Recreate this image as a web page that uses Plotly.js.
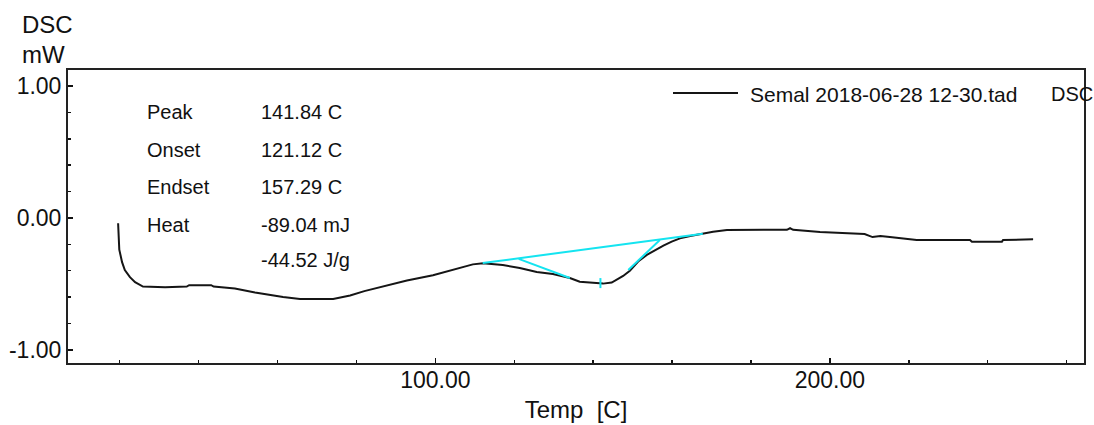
<!DOCTYPE html>
<html>
<head>
<meta charset="utf-8">
<script src="https://cdn.plot.ly/plotly-3.0.1.min.js"></script>
<style>html,body{margin:0;padding:0;background:#fff;}#chart{width:1094px;height:425px;}</style>
</head>
<body>
<div id="chart"></div>
<script>
// Measured DSC curve
const temperature = [19.6, 19.7, 19.9, 20.6, 21.3, 22.6, 23.9, 25.9, 31.5, 37.0, 37.6, 43.2, 43.8, 49.2, 54.3, 61.4, 65.7, 74.1, 78.4, 82.0, 86.7, 92.8, 99.4, 103.7, 107.0, 109.5, 112.1, 117.1, 121.4, 125.7, 129.8, 134.1, 136.6, 140.9, 142.5, 144.7, 146.0, 147.6, 149.3, 151.4, 153.6, 155.7, 157.8, 159.9, 162.0, 164.6, 167.1, 170.4, 173.9, 182.3, 189.1, 189.9, 190.7, 197.5, 203.3, 208.8, 210.8, 212.8, 215.2, 219.5, 222.0, 235.5, 236.0, 243.6, 243.9, 251.5];
const dscSignal   = [-0.04, -0.15, -0.24, -0.335, -0.395, -0.449, -0.487, -0.52, -0.525, -0.52, -0.51, -0.51, -0.52, -0.535, -0.565, -0.60, -0.615, -0.615, -0.588, -0.555, -0.52, -0.475, -0.435, -0.40, -0.37, -0.352, -0.343, -0.357, -0.38, -0.41, -0.425, -0.455, -0.484, -0.496, -0.498, -0.49, -0.47, -0.44, -0.40, -0.33, -0.28, -0.243, -0.21, -0.18, -0.155, -0.137, -0.122, -0.105, -0.091, -0.088, -0.09, -0.078, -0.09, -0.106, -0.114, -0.122, -0.145, -0.137, -0.144, -0.16, -0.167, -0.167, -0.18, -0.18, -0.167, -0.162];

// Peak analysis construction lines
const baselineT = [112.0, 167.8];
const baselineV = [-0.342, -0.120];
const onsetT = [121.12, 134.1];
const onsetV = [-0.31, -0.455];
const endsetT = [156.9, 148.9];
const endsetV = [-0.167, -0.395];
const peakMarkT = [141.84, 141.84];
const peakMarkV = [-0.456, -0.532];

// Result table
const resultLabels = ["Peak", "Onset", "Endset", "Heat", ""];
const resultValues = ["141.84 C", "121.12 C", "157.29 C", "-89.04 mJ", "-44.52 J/g"];

// Axis ticks
const xTickVals = [100, 200];
const xTickText = ["100.00", "200.00"];
const yTickVals = [1, 0, -1];
const yTickText = ["1.00", "0.00", "-1.00"];

const seriesName = "Semal 2018-06-28 12-30.tad";
const FONT = "Liberation Sans, Arial, sans-serif";
const CYAN = "#14e4f0";

const traces = [
  {x: temperature, y: dscSignal, type: "scatter", mode: "lines", name: seriesName,
   line: {color: "#151515", width: 2}, showlegend: false, hoverinfo: "skip"},
  {x: baselineT, y: baselineV, type: "scatter", mode: "lines", line: {color: CYAN, width: 2}, showlegend: false},
  {x: onsetT, y: onsetV, type: "scatter", mode: "lines", line: {color: CYAN, width: 2}, showlegend: false},
  {x: endsetT, y: endsetV, type: "scatter", mode: "lines", line: {color: CYAN, width: 2}, showlegend: false},
  {x: peakMarkT, y: peakMarkV, type: "scatter", mode: "lines", line: {color: CYAN, width: 2}, showlegend: false}
];

// layout geometry
const L = 68, T = 70, W = 1016, H = 293;
const px = v => (v - L) / W;
const py = v => (T + H - v) / H;

const rowY = [112, 150, 187, 225, 260];
const annotations = [];
resultLabels.forEach((lab, i) => {
  if (lab) annotations.push({xref: "paper", yref: "paper", x: px(145), y: py(rowY[i]), xanchor: "left", yanchor: "middle",
    text: lab, showarrow: false, font: {family: FONT, size: 20, color: "#111"}});
  annotations.push({xref: "paper", yref: "paper", x: px(259), y: py(rowY[i]), xanchor: "left", yanchor: "middle",
    text: resultValues[i], showarrow: false, font: {family: FONT, size: 20, color: "#111"}});
});
annotations.push({xref: "paper", yref: "paper", x: px(748), y: py(94), xanchor: "left", yanchor: "middle",
  text: seriesName, showarrow: false, font: {family: FONT, size: 21, color: "#111"}});
annotations.push({xref: "paper", yref: "paper", x: px(1049), y: py(94), xanchor: "left", yanchor: "middle",
  text: "DSC", showarrow: false, font: {family: FONT, size: 20, color: "#111"}});
annotations.push({xref: "paper", yref: "paper", x: px(20), y: py(24), xanchor: "left", yanchor: "middle",
  text: "DSC", showarrow: false, font: {family: FONT, size: 24, color: "#111"}});
annotations.push({xref: "paper", yref: "paper", x: px(20), y: py(55), xanchor: "left", yanchor: "middle",
  text: "mW", showarrow: false, font: {family: FONT, size: 24, color: "#111"}});

const layout = {
  width: 1094, height: 425,
  margin: {l: L, r: 1094 - L - W, t: T, b: 425 - T - H, pad: 0},
  paper_bgcolor: "#fff", plot_bgcolor: "#fff",
  showlegend: false,
  xaxis: {
    range: [6.9, 264.4], tickmode: "array", tickvals: xTickVals, ticktext: xTickText,
    ticks: "inside", ticklen: 5, tickwidth: 1.5, tickcolor: "#111", ticklabelstandoff: -5,
    minor: {dtick: 20, tick0: 0, ticks: "inside", ticklen: 3, tickwidth: 1.5, tickcolor: "#111", showgrid: false},
    showgrid: false, zeroline: false, showline: true, mirror: true, linecolor: "#222", linewidth: 2,
    tickfont: {family: FONT, size: 23, color: "#111"},
    title: {text: "Temp  [C]", font: {family: FONT, size: 24, color: "#111"}, standoff: 10},
    automargin: false
  },
  yaxis: {
    range: [-1.10, 1.122], tickmode: "array", tickvals: yTickVals, ticktext: yTickText,
    ticks: "inside", ticklen: 5, tickwidth: 1.5, tickcolor: "#111",
    minor: {dtick: 0.2, tick0: 0, ticks: "inside", ticklen: 3, tickwidth: 1.5, tickcolor: "#111", showgrid: false},
    showgrid: false, zeroline: false, showline: true, mirror: true, linecolor: "#222", linewidth: 2,
    tickfont: {family: FONT, size: 23, color: "#111"},
    automargin: false
  },
  shapes: [
    {type: "line", xref: "paper", yref: "paper", x0: px(673), x1: px(738), y0: py(93), y1: py(93),
     line: {color: "#151515", width: 2}}
  ],
  annotations: annotations
};

Plotly.newPlot("chart", traces, layout, {staticPlot: true, displayModeBar: false});
</script>
</body>
</html>
